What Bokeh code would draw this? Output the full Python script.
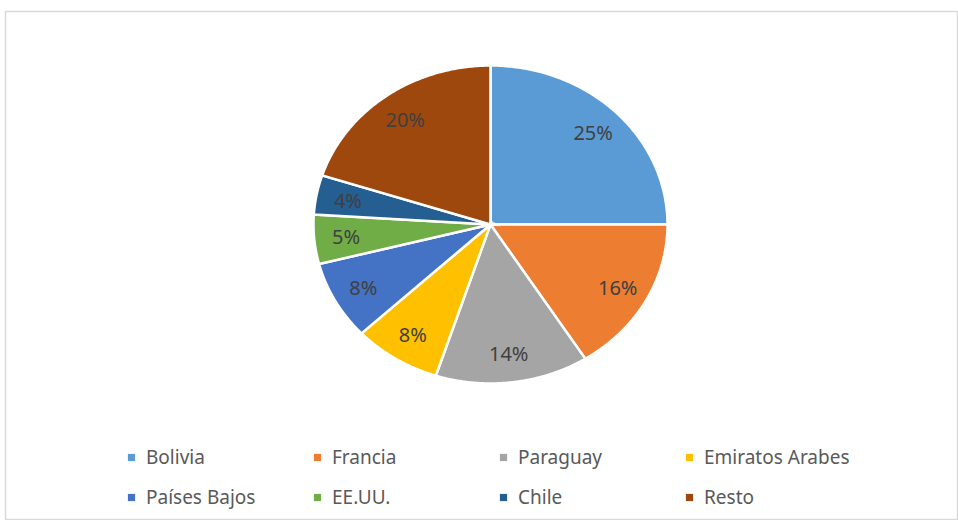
import numpy as np
from bokeh.plotting import figure
from bokeh.models import Range1d, ColumnDataSource, Legend, LegendItem
from bokeh.embed import file_html
from bokeh.resources import INLINE
from bokeh.core.properties import value

countries = ["Bolivia", "Francia", "Paraguay", "Emiratos Arabes",
             "Países Bajos", "EE.UU.", "Chile", "Resto"]
shares = [25, 16, 14, 8, 8, 5, 4, 20]
labels = [f"{s}%" for s in shares]
colors = ["#5B9BD5", "#ED7D31", "#A5A5A5", "#FFC000",
          "#4472C4", "#70AD47", "#255E91", "#9E480E"]

W, H = 958, 520
LEFT, TOP = 5, 11
FW, FH = W - LEFT, H - TOP
CX, CY = 485, 213      # pie centre inside the frame (px)
RX, RY = 177, 159      # pie radii (px), the reference is stretched

p = figure(width=W, height=H, output_backend="svg", toolbar_location=None,
           x_range=Range1d(-CX / RX, (FW - CX) / RX),
           y_range=Range1d(-(FH - CY) / RY, CY / RY),
           min_border_top=TOP, min_border_left=LEFT, min_border_right=0,
           min_border_bottom=0)
p.axis.visible = False
p.grid.visible = False
p.outline_line_color = "#d9d9d9"
p.outline_line_width = 1.5
p.background_fill_color = "white"
p.border_fill_color = "white"

total = float(sum(shares))
ends = np.cumsum(shares) / total * 2 * np.pi
starts = np.concatenate([[0.0], ends[:-1]])
xs, ys, lx, ly = [], [], [], []
for a0, a1 in zip(starts, ends):
    t = np.linspace(a0, a1, 120)
    xs.append(np.concatenate([[0.0], np.sin(t), [0.0]]))
    ys.append(np.concatenate([[0.0], np.cos(t), [0.0]]))
    m = (a0 + a1) / 2
    lx.append(0.82 * np.sin(m))
    ly.append(0.82 * np.cos(m))

src = ColumnDataSource(dict(xs=xs, ys=ys, color=colors, name=countries))
p.patches("xs", "ys", source=src, fill_color="color", line_color="white",
          line_width=2.5, line_join="miter")

lsrc = ColumnDataSource(dict(x=lx, y=ly, text=labels))
p.text("x", "y", text="text", source=lsrc, text_align="center",
       text_baseline="middle", text_font=value("Noto Sans"),
       text_font_size="20px", text_color="#404040")

legsrc = ColumnDataSource(dict(x=[np.nan] * len(countries),
                               y=[np.nan] * len(countries), color=colors))
lr = p.scatter("x", "y", source=legsrc, marker="square", fill_color="color",
               line_color=None, size=7)

items = [LegendItem(label=c, renderers=[lr], index=i) for i, c in enumerate(countries)]
legend = Legend(items=items, orientation="horizontal", ncols=4, nrows=2,
                location=(117, 10),
                glyph_width=18, glyph_height=18, label_standoff=6,
                label_width=148, label_height=20, spacing=14,
                padding=0, margin=0, border_line_color=None,
                background_fill_alpha=0,
                label_text_font="Noto Sans", label_text_font_size="19px",
                label_text_color="#595959")
p.add_layout(legend)

open("out.html", "w").write(file_html(p, INLINE))
